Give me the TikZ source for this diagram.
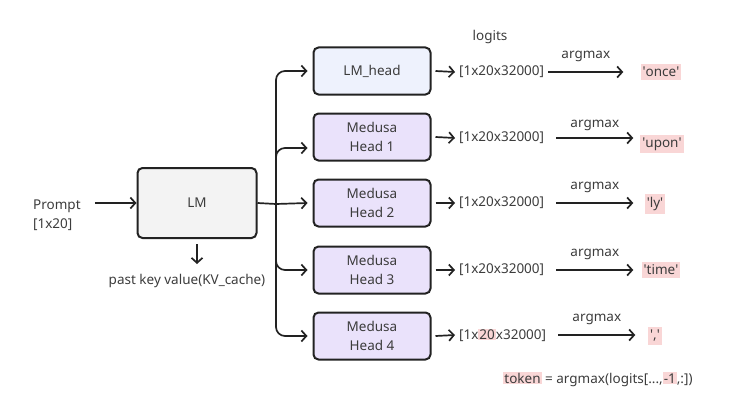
\documentclass[tikz,border=0pt]{standalone}
\usepackage{fontspec}
\setmainfont{Noto Sans}
\usetikzlibrary{arrows.meta}
\definecolor{ink}{HTML}{3C3C3C}
\definecolor{edge}{HTML}{222222}
\definecolor{lmfill}{HTML}{F3F3F3}
\definecolor{headfill}{HTML}{EEF2FD}
\definecolor{medfill}{HTML}{EAE2FB}
\definecolor{tokpink}{HTML}{F9D6D6}
\newcommand{\sq}{\textquotesingle}
\newcommand{\hlpink}[1]{{\setlength{\fboxsep}{1pt}\colorbox{tokpink}{#1}}}

\begin{document}
\begin{tikzpicture}[x=1pt, y=-1pt, line width=1.7pt, color=edge,
    >={Straight Barb[length=5pt,width=11pt]},
    every node/.style={text=ink, font=\fontsize{13.5}{19.5}\selectfont},
    lmbox/.style={draw=edge, line width=2pt, rounded corners=5pt, fill=lmfill,
      minimum width=119pt, minimum height=70pt},
    headbox/.style={draw=edge, line width=2pt, rounded corners=5pt, fill=medfill,
      minimum width=117pt, minimum height=47pt, align=center},
    token/.style={fill=tokpink, inner xsep=2pt, inner ysep=3pt}]
      \useasboundingbox (0,0) rectangle (730,412);

      \node[anchor=west, align=left] (prompt) at (29,215) {Prompt\\{[1x20]}};
      \node[lmbox] (LM) at (197,203) {LM};
      \node (kv) at (187,281) {past key value(KV\_cache)};

      \draw[->] ([xshift=10pt]prompt.east |- LM.west) -- (LM.west);
      \draw[->] ([yshift=-5pt]LM.south) -- ([yshift=-25pt]LM.south);

      \node[headbox, fill=headfill] (lmh) at (372,71) {LM\_head};
      \node[headbox] (mh1) at (372,137) {Medusa\\Head 1};
      \node[headbox] (mh2) at (372,203) {Medusa\\Head 2};
      \node[headbox] (mh3) at (372,270) {Medusa\\Head 3};
      \node[headbox] (mh4) at (372,336) {Medusa\\Head 4};

      \coordinate (fork) at (276,204);
      \draw (LM.east) -- (fork);
      \draw[->, rounded corners=9pt] (fork) |- ([xshift=-5pt]lmh.west);
      \draw[->, rounded corners=9pt] (fork) |- ([xshift=-5pt,yshift=-11pt]mh1.west);
      \draw[->] (fork) -- ([xshift=-5pt]mh2.west);
      \draw[->, rounded corners=9pt] (fork) |- ([xshift=-5pt]mh3.west);
      \draw[->, rounded corners=9pt] (fork) |- ([xshift=-5pt]mh4.west);

      \node (logits) at (490,37) {logits};
      \node[anchor=west] (d0) at (455,72) {[1x20x32000]};
      \node[anchor=west] (d1) at (455,138) {[1x20x32000]};
      \node[anchor=west] (d2) at (455,203) {[1x20x32000]};
      \node[anchor=west] (d3) at (455,270) {[1x20x32000]};
      \node[anchor=west] (d4) at (455,335) {[1x\hlpink{20}x32000]};

      \draw[->] ([xshift=4pt]lmh.east) -- (d0.west);
      \draw[->] ([xshift=4pt]mh1.east) -- (d1.west);
      \draw[->] ([xshift=4pt]mh2.east) -- (d2.west);
      \draw[->] ([xshift=4pt]mh3.east) -- (d3.west);
      \draw[->] ([xshift=4pt]mh4.east) -- (d4.west);

      \node[token] (t0) at (661,72) {\sq once\sq};
      \node[token] (t1) at (662,144) {\sq upon\sq};
      \node[token] (t2) at (655,204) {\sq ly\sq};
      \node[token] (t3) at (661,270) {\sq time\sq};
      \node[token] (t4) at (655,336) {\sq,\sq};

      \draw[->] (d0.east) -- ++(75,0)
        node[above=6pt, midway] {argmax};
      \draw[->] ([xshift=8pt]d1.east) -- ++(77,0)
        node[above=3pt, midway] {argmax};
      \draw[->] ([xshift=8pt]d2.east) -- ++(77,0)
        node[above=6pt, midway] {argmax};
      \draw[->] ([xshift=8pt]d3.east) -- ++(77,0)
        node[above=6pt, midway] {argmax};
      \draw[->] ([xshift=8pt]d4.east) -- ++(77,0)
        node[above=6pt, midway] {argmax};

      \node (rule) at (598,379) {\hlpink{token} = argmax(logits[...,\hlpink{-1},:])};
    \end{tikzpicture}
\end{document}
